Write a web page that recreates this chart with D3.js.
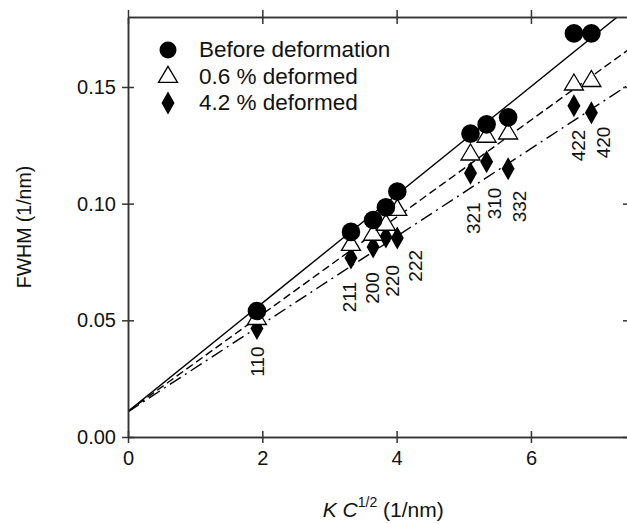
<!DOCTYPE html>
<html lang="en">
<head>
<meta charset="UTF-8">
<title>FWHM vs K C^1/2</title>
<script src="https://d3js.org/d3.v7.min.js"></script>
<style>
  body { margin: 0; background: #fff; }
  text { font-family: "Liberation Sans", Arial, sans-serif; fill: #111; }
</style>
</head>
<body>
<script>
    // reflections (hkl) and their x position K C^1/2 (1/nm)
    var reflections = ["110", "211", "200", "220", "222", "321", "310", "332", "422", "420"];
    var kc = [1.92, 3.32, 3.65, 3.84, 4.01, 5.10, 5.34, 5.66, 6.64, 6.90];

    // FWHM (1/nm) per sample
    var before = [0.0540, 0.0879, 0.0930, 0.0984, 0.1052, 0.1300, 0.1340, 0.1370, 0.1730, 0.1730];
    var def06  = [0.0505, 0.0823, 0.0866, 0.0909, 0.0973, 0.1210, 0.1286, 0.1300, 0.1510, 0.1525];
    var def42  = [0.0465, 0.0767, 0.0814, 0.0857, 0.0853, 0.1130, 0.1180, 0.1150, 0.1420, 0.1390];

    // linear fits: FWHM = a + b * KC^1/2
    var fitNames = ["Before deformation", "0.6 % deformed", "4.2 % deformed"];
    var fitA = [0.0110, 0.0110, 0.0108];
    var fitB = [0.0232, 0.0208, 0.0188];

    var xTicks = [0, 2, 4, 6];
    var yTicks = [0, 0.05, 0.10, 0.15];

    var w = 627, h = 524;
    var mLeft = 128, mRight = 629, mTop = 17, mBottom = 437;

    var svg = d3.select("body").append("svg")
        .attr("width", w)
        .attr("height", h);

    var x = d3.scaleLinear().domain([0, 7.46]).range([mLeft, mRight]);
    var y = d3.scaleLinear().domain([0, 0.18]).range([mBottom, mTop]);

    svg.append("clipPath").attr("id", "plot")
        .append("rect")
        .attr("x", mLeft).attr("y", mTop)
        .attr("width", mRight - mLeft).attr("height", mBottom - mTop);

    // fit lines
    var dashes = [null, "8,4", "13,5,2,5"];
    fitA.forEach(function(a, i) {
        var b = fitB[i];
        var pts = [0, 7.46].map(function(v) { return [v, a + b * v]; });
        svg.append("path")
            .attr("clip-path", "url(#plot)")
            .attr("d", d3.line().x(function(d) { return x(d[0]); }).y(function(d) { return y(d[1]); })(pts))
            .attr("fill", "none")
            .attr("stroke", "#000")
            .attr("stroke-width", 1.4)
            .attr("stroke-dasharray", dashes[i]);
    });

    // axes, ticks crossing the frame on every side
    function styleAxis(g) {
        g.select(".domain").attr("stroke", "#333").attr("stroke-width", 1.5);
        g.selectAll(".tick line").attr("stroke", "#333").attr("stroke-width", 1.5);
        g.selectAll(".tick text").style("font-size", "20px").attr("fill", "#111");
    }
    svg.append("g").attr("transform", "translate(0," + mBottom + ")")
        .call(d3.axisBottom(x).tickValues(xTicks).tickSize(6).tickSizeOuter(0).tickPadding(8).tickFormat(d3.format("d")))
        .call(styleAxis);
    svg.append("g").attr("transform", "translate(0," + mBottom + ")")
        .call(d3.axisTop(x).tickValues(xTicks).tickSize(6).tickSizeOuter(0).tickFormat(""))
        .call(styleAxis);
    svg.append("g").attr("transform", "translate(0," + mTop + ")")
        .call(d3.axisTop(x).tickValues(xTicks).tickSize(7).tickSizeOuter(0).tickFormat(""))
        .call(styleAxis);
    svg.append("g").attr("transform", "translate(0," + mTop + ")")
        .call(d3.axisBottom(x).tickValues(xTicks).tickSize(7).tickSizeOuter(0).tickFormat(""))
        .call(styleAxis);
    svg.append("g").attr("transform", "translate(" + mLeft + ",0)")
        .call(d3.axisLeft(y).tickValues(yTicks).tickSize(6).tickSizeOuter(0).tickPadding(6).tickFormat(d3.format(".2f")))
        .call(styleAxis);
    svg.append("g").attr("transform", "translate(" + mLeft + ",0)")
        .call(d3.axisRight(y).tickValues(yTicks).tickSize(6).tickSizeOuter(0).tickFormat(""))
        .call(styleAxis);
    svg.append("g").attr("transform", "translate(" + mRight + ",0)")
        .call(d3.axisLeft(y).tickValues(yTicks).tickSize(6).tickSizeOuter(0).tickFormat(""))
        .call(styleAxis);

    // marker shapes
    function triangle(s, ht) {
        return "M0," + (-ht * 2 / 3) + "L" + (s / 2) + "," + (ht / 3) + "L" + (-s / 2) + "," + (ht / 3) + "Z";
    }
    function diamond(hw, hh) {
        return "M0," + (-hh) + "L" + hw + ",0L0," + hh + "L" + (-hw) + ",0Z";
    }
    var triPath = triangle(19, 16);
    var diaPath = diamond(6.5, 11.5);

    svg.selectAll(".d42").data(def42).enter().append("path")
        .attr("class", "d42")
        .attr("d", diaPath)
        .attr("transform", function(d, i) { return "translate(" + x(kc[i]) + "," + y(d) + ")"; })
        .attr("fill", "#000");

    svg.selectAll(".d06").data(def06).enter().append("path")
        .attr("class", "d06")
        .attr("d", triPath)
        .attr("transform", function(d, i) { return "translate(" + x(kc[i]) + "," + y(d) + ")"; })
        .attr("fill", "#fff")
        .attr("stroke", "#000")
        .attr("stroke-width", 1.3);

    svg.selectAll(".bef").data(before).enter().append("circle")
        .attr("class", "bef")
        .attr("cx", function(d, i) { return x(kc[i]); })
        .attr("cy", function(d) { return y(d); })
        .attr("r", 9.3)
        .attr("fill", "#000");

    // reflection labels below the 4.2 % points, rotated
    var labelShift = {
        "110": [0, 18], "211": [-2, 24], "200": [-1, 25], "220": [6, 28], "222": [18, 12],
        "321": [3, 29], "310": [8, 26], "332": [11, 22], "422": [4, 24], "420": [12, 14]
    };
    svg.selectAll(".hkl").data(reflections).enter().append("text")
        .attr("class", "hkl")
        .attr("transform", function(d, i) {
            var s = labelShift[d];
            return "translate(" + (x(kc[i]) + s[0]) + "," + (y(def42[i]) + s[1]) + ") rotate(-90)";
        })
        .attr("text-anchor", "end")
        .attr("dy", "0.36em")
        .style("font-size", "19px")
        .text(function(d) { return d; });

    // legend
    var lg = svg.append("g");
    var legendY = [50, 77, 103];
    lg.append("circle").attr("cx", 168).attr("cy", legendY[0]).attr("r", 8.5).attr("fill", "#000");
    lg.append("path").attr("d", triPath).attr("transform", "translate(168," + legendY[1] + ")")
        .attr("fill", "#fff").attr("stroke", "#000").attr("stroke-width", 1.3);
    lg.append("path").attr("d", diaPath).attr("transform", "translate(168," + legendY[2] + ")")
        .attr("fill", "#000");
    lg.selectAll("text").data(fitNames).enter().append("text")
        .attr("x", 199)
        .attr("y", function(d, i) { return legendY[i] + 7; })
        .style("font-size", "22.5px")
        .text(function(d) { return d; });

    // axis titles
    svg.append("text")
        .attr("transform", "translate(31,227) rotate(-90)")
        .attr("text-anchor", "middle")
        .style("font-size", "19.5px")
        .text("FWHM (1/nm)");

    var xt = svg.append("text")
        .attr("x", x(3.8))
        .attr("y", 517)
        .attr("text-anchor", "middle")
        .style("font-size", "21px");
    xt.append("tspan").style("font-style", "italic").text("K C");
    xt.append("tspan").attr("dy", -10).style("font-size", "14px").text("1/2");
    xt.append("tspan").attr("dy", 10).text(" (1/nm)");
</script>
</body>
</html>
